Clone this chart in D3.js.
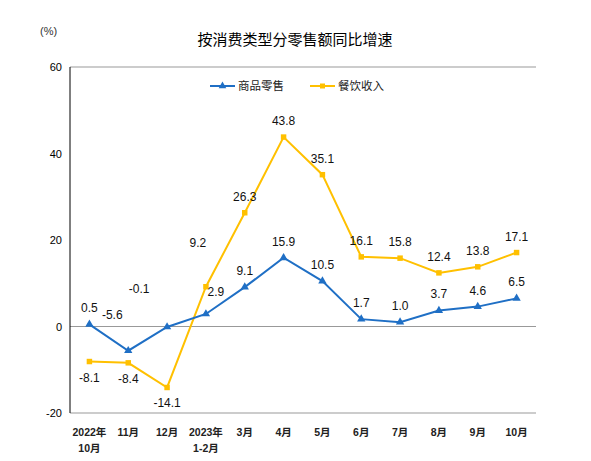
<!DOCTYPE html>
<html><head><meta charset="utf-8">
<script src="https://cdn.jsdelivr.net/npm/d3@7"></script>
<style>body{margin:0;background:#fff;font-family:"Liberation Sans",Arial,"Noto Sans CJK SC",sans-serif;}</style>
</head><body><div class="canvas"></div>
<script>
var categories = [["2022年","10月"],["11月"],["12月"],["2023年","1-2月"],["3月"],["4月"],["5月"],["6月"],["7月"],["8月"],["9月"],["10月"]];
var goods = [0.5,-5.6,-0.1,2.9,9.1,15.9,10.5,1.7,1.0,3.7,4.6,6.5];
var catering = [-8.1,-8.4,-14.1,9.2,26.3,43.8,35.1,16.1,15.8,12.4,13.8,17.1];
var yTicks = [-20,0,20,40,60];

var W = 591, H = 461;
var margin = {t:67,r:55,b:48,l:70};
var width = W - margin.l - margin.r, height = H - margin.t - margin.b;

var svg = d3.select('.canvas').append('svg').attr('width',W).attr('height',H);
svg.append('text').attr('x',295).attr('y',45).attr('text-anchor','middle')
    .style('font-size','15px').style('font-family','"Noto Sans CJK SC"').text('按消费类型分零售额同比增速');
svg.append('text').attr('x',40).attr('y',35).style('font-size','11px').attr('fill','#333').text('(%)');

var g = svg.append('g').attr('transform','translate('+margin.l+','+margin.t+')');

var x = d3.scaleBand().domain(d3.range(categories.length)).range([0,width]);
var y = d3.scaleLinear().domain([-20,60]).range([height,0]);
var cx = function(i){return x(i)+x.bandwidth()/2;};

g.append('line').attr('x1',0).attr('x2',width).attr('y1',0).attr('y2',0).attr('stroke','#999');
g.append('line').attr('x1',0).attr('x2',width).attr('y1',height).attr('y2',height).attr('stroke','#999');
g.append('line').attr('x1',0).attr('x2',width).attr('y1',y(0)).attr('y2',y(0)).attr('stroke','#999');
g.append('line').attr('x1',0).attr('x2',0).attr('y1',0).attr('y2',height).attr('stroke','#000');

yTicks.forEach(function(t){
    g.append('text').attr('x',-8).attr('y',y(t)+4).attr('text-anchor','end')
        .style('font-size','11px').text(t);
});
categories.forEach(function(c,i){
    c.forEach(function(s,k){
        g.append('text').attr('x',cx(i)).attr('y',height+23+k*16).attr('text-anchor','middle')
            .style('font-size','10.5px').style('font-weight','bold').attr('fill','#222').text(s);
    });
});

var line = d3.line().x(function(d,i){return cx(i);}).y(function(d){return y(d);});

// label nudges for crowded points
var nudge = {goods:{1:[-16,-20],2:[-28,-22],3:[10,-6]}, catering:{3:[-8,-28]}};

function series(data,key,color,shape,below){
    g.append('path').datum(data).attr('d',line).attr('fill','none').attr('stroke',color).attr('stroke-width',2);
    g.selectAll(null).data(data).enter().append('path')
        .attr('transform',function(d,i){return 'translate('+cx(i)+','+y(d)+')';})
        .attr('d',d3.symbol().type(shape).size(30)).attr('fill',color);
    g.selectAll(null).data(data).enter().append('text')
        .attr('x',function(d,i){return cx(i)+(nudge[key][i]?nudge[key][i][0]:0);})
        .attr('y',function(d,i){return (below(d) ? y(d)+20 : y(d)-12)+(nudge[key][i]?nudge[key][i][1]:0);})
        .attr('text-anchor','middle').style('font-size','12px').attr('fill','#111')
        .text(function(d){return d.toFixed(1);});
}
series(catering,'catering','#ffc000',d3.symbolSquare,function(d){return d<0;});
series(goods,'goods','#1f6fc5',d3.symbolTriangle,function(d){return false;});

var leg = [{n:'商品零售',c:'#1f6fc5',s:d3.symbolTriangle,x:210},{n:'餐饮收入',c:'#ffc000',s:d3.symbolSquare,x:310}];
leg.forEach(function(l){
    svg.append('line').attr('x1',l.x).attr('x2',l.x+25).attr('y1',86).attr('y2',86).attr('stroke',l.c).attr('stroke-width',2);
    svg.append('path').attr('transform','translate('+(l.x+12.5)+',86)').attr('d',d3.symbol().type(l.s).size(25)).attr('fill',l.c);
    svg.append('text').attr('x',l.x+28).attr('y',90).style('font-size','11.5px').attr('fill','#222').text(l.n);
});
</script></body></html>
